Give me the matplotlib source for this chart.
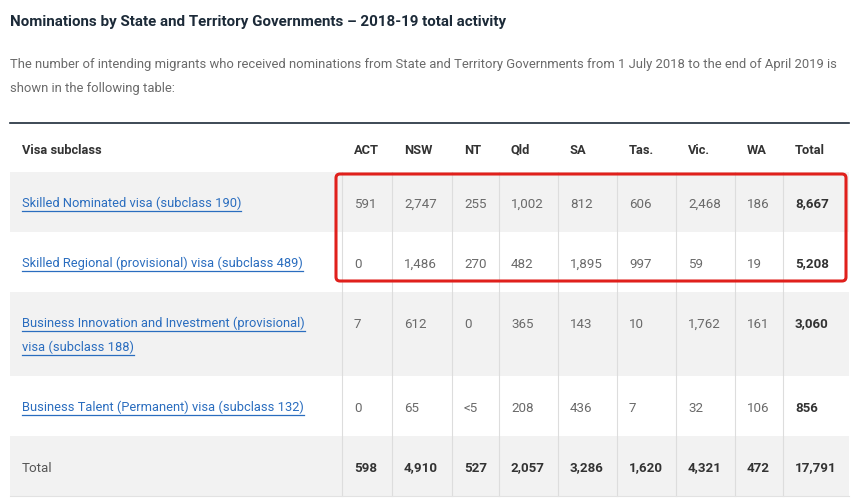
import matplotlib.pyplot as plt
from matplotlib.patches import Rectangle, FancyBboxPatch

plt.rcParams['font.family'] = ['Roboto', 'DejaVu Sans']

title = "Nominations by State and Territory Governments \u2013 2018-19 total activity"
intro = ["The number of intending migrants who received nominations from State and Territory Governments from 1 July 2018 to the end of April 2019 is",
         "shown in the following table:"]

columns = ['ACT', 'NSW', 'NT', 'Qld', 'SA', 'Tas.', 'Vic.', 'WA', 'Total']
visas = [["Skilled Nominated visa (subclass 190)"],
         ["Skilled Regional (provisional) visa (subclass 489)"],
         ["Business Innovation and Investment (provisional)", "visa (subclass 188)"],
         ["Business Talent (Permanent) visa (subclass 132)"]]
sc190 = ['591', '2,747', '255', '1,002', '812', '606', '2,468', '186', '8,667']
sc489 = ['0', '1,486', '270', '482', '1,895', '997', '59', '19', '5,208']
sc188 = ['7', '612', '0', '365', '143', '10', '1,762', '161', '3,060']
sc132 = ['0', '65', '<5', '208', '436', '7', '32', '106', '856']
totals = ['598', '4,910', '527', '2,057', '3,286', '1,620', '4,321', '472', '17,791']
rows = [sc190, sc489, sc188, sc132]

# layout (pixels)
left, right = 10, 849
col_edges = [342, 392, 452, 499, 558, 617, 676, 735, 783]
pad = 12
head_top = 123
row_tops = [172, 232, 292, 376, 436]
row_bottom = 496
line_gap = 24

dark = '#1c2a38'
grey_txt = '#6a6a6a'
head_txt = '#333333'
link = '#2a6dbf'
band = '#f2f2f2'
fs = 9.6
fs_link = 9.3

fig = plt.figure(figsize=(8.56, 5.04), dpi=100)
ax = fig.add_axes([0, 0, 1, 1])
ax.set_xlim(0, 856)
ax.set_ylim(504, 0)
ax.axis('off')

ax.text(10, 26, title, fontsize=10.9, fontweight='bold', color=dark, va='baseline')
for i, line in enumerate(intro):
    ax.text(10, 68 + i * 24.3, line, fontsize=9.4, color=grey_txt, va='baseline')

ax.plot([left, right], [head_top, head_top], color=dark, lw=1.2)

# header
hy = 153.5
ax.text(22, hy, 'Visa subclass', fontsize=9.3, fontweight='bold', color=head_txt, va='baseline')
for x, c in zip(col_edges, columns):
    ax.text(x + pad, hy, c, fontsize=9.3, fontweight='bold', color=head_txt, va='baseline')

# bands
edges = row_tops + [row_bottom]
for k in range(5):
    if k % 2 == 0:
        ax.add_patch(Rectangle((left, edges[k]), right - left, edges[k + 1] - edges[k],
                               facecolor=band, edgecolor='none', zorder=0))
ax.plot([left, right], [row_bottom, row_bottom], color='#e2e2e2', lw=0.8)
for x in col_edges:
    ax.plot([x, x], [row_tops[0], row_bottom], color='#dddddd', lw=0.8, zorder=1)

fig.canvas.draw()
r = fig.canvas.get_renderer()

for k, (names, vals) in enumerate(zip(visas, rows)):
    y0 = edges[k] + 35.5
    for j, nm in enumerate(names):
        yy = y0 + j * line_gap
        t = ax.text(22, yy, nm, fontsize=fs_link, color=link, va='baseline')
        bb = t.get_window_extent(r).transformed(ax.transData.inverted())
        ax.plot([bb.x0, bb.x1], [yy + 3, yy + 3], color=link, lw=0.9)
    for i, (x, v) in enumerate(zip(col_edges, vals)):
        last = i == len(vals) - 1
        ax.text(x + pad, y0, v, fontsize=fs, color=head_txt if last else grey_txt,
                fontweight='bold' if last else 'normal', va='baseline')

yt = edges[4] + 35.5
ax.text(22, yt, 'Total', fontsize=fs, color='#555555', va='baseline')
for x, v in zip(col_edges, totals):
    ax.text(x + pad, yt, v, fontsize=fs, color=head_txt, fontweight='bold', va='baseline')

# highlight box
ax.add_patch(FancyBboxPatch((336, 174), 510, 107, boxstyle='round,pad=0,rounding_size=4',
                            facecolor='none', edgecolor='#e0201c', lw=2.2, zorder=5))

fig.savefig('out.png', dpi=100)
